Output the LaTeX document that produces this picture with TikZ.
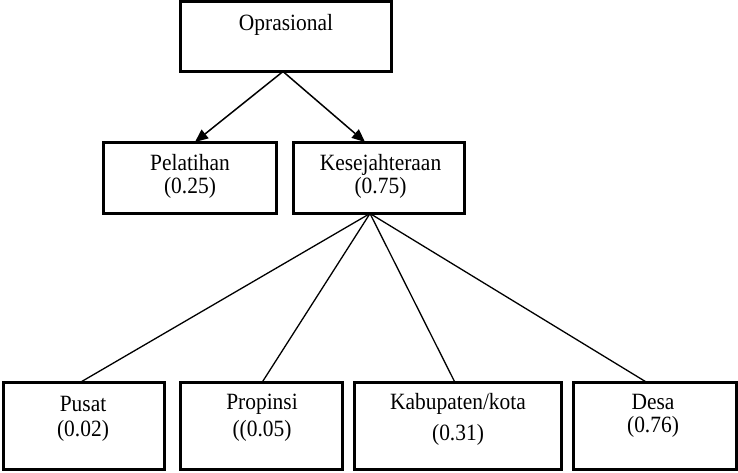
\documentclass[tikz,border=0pt]{standalone}
\usepackage{fontspec}
\setmainfont{Liberation Serif}[FakeStretch=0.92]
\usetikzlibrary{arrows.meta}
\begin{document}
\begin{tikzpicture}[x=1pt,y=-1pt,
  boxst/.style={draw=black,line width=3pt,inner sep=0pt,minimum width=#1},
  lbl/.style={inner sep=0pt,font=\fontsize{23.3}{27}\selectfont},
  lbl2/.style={inner sep=0pt,align=center,font=\fontsize{23.3}{23}\selectfont},
  arr/.style={line width=1.5pt,-{Triangle[length=13pt,width=11pt]}},
  conn/.style={line width=1.3pt}]
\useasboundingbox (0,0) rectangle (738,472);
% top
\node[boxst=211pt,minimum height=70pt] (op) at (286,36.5) {};
\node[lbl] (opt) at (286,25) {Oprasional};
% middle
\node[boxst=173pt,minimum height=71pt] (pel) at (190,178) {};
\node[lbl2] (pelt) at (190,176.5) {Pelatihan\\(0.25)};
\node[boxst=171pt,minimum height=71pt] (kes) at (379,178) {};
\node[lbl2] (kest) at (380.5,176.5) {Kesejahteraan\\(0.75)};
% bottom
\node[boxst=161pt,minimum height=87pt] (pus) at (84,426) {};
\node[lbl] (pust) at (83,404) {Pusat};
\node[lbl] (pusv) at (83,431) {(0.02)};
\node[boxst=162pt,minimum height=87pt] (pro) at (261.5,426) {};
\node[lbl] (prot) at (262,404) {Propinsi};
\node[lbl] (prov) at (262,431) {((0.05)};
\node[boxst=207pt,minimum height=87pt] (kab) at (458,426) {};
\node[lbl] (kabt) at (458,404) {Kabupaten/kota};
\node[lbl] (kabv) at (458,435) {(0.31)};
\node[boxst=163pt,minimum height=87pt] (des) at (654.5,426) {};
\node[lbl2] (dest) at (653,416) {Desa\\(0.76)};
% connection points
\coordinate (opB) at (283,71.5);
\coordinate (pelT) at (195,142);
\coordinate (kesT) at (365,142);
\coordinate (kesB) at (370,213.5);
\coordinate (pusT) at (80,382.5);
\coordinate (proT) at (262,382.5);
\coordinate (kabT) at (455,382.5);
\coordinate (desT) at (647,382.5);
\draw[arr] (opB) -- (pelT);
\draw[arr] (opB) -- (kesT);
\draw[conn] (kesB) -- (pusT);
\draw[conn] (kesB) -- (proT);
\draw[conn] (kesB) -- (kabT);
\draw[conn] (kesB) -- (desT);
\end{tikzpicture}
\end{document}
